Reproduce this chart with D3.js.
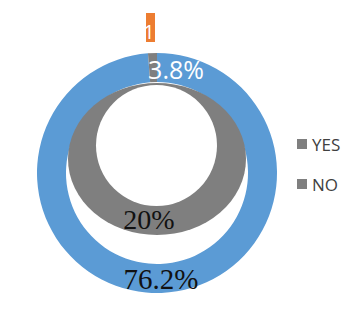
<!DOCTYPE html>
<html>
<head>
	<meta charset="utf-8">
	<title>Doughnut</title>
	<script src="https://d3js.org/d3.v7.min.js"></script>
	<style>
		body { margin: 0; background: #fff; }
		svg { display: block; }
	</style>
</head>
<body>
<script>
// outer ring slices (share of the ring)
var outerNames = ["YES", "NO"];
var outerValues = [98.8, 1.2];
var outerColors = ["#5b9bd5", "#7f7f7f"];
var outerLabels = ["76.2%", "3.8%"];

// inner ring
var innerValues = [20];
var innerLabels = ["20%"];

var legendNames = ["YES", "NO"];
var topLabel = "1";

var width = 354, height = 317;
var cx = 157, cy = 173;

var svg = d3.select("body").append("svg")
	.attr("width", width)
	.attr("height", height);

var pie = d3.pie().sort(null).value(function(d){ return d; });
var outerArc = d3.arc().innerRadius(91).outerRadius(120);

var outer = svg.append("g").attr("transform", "translate(" + cx + "," + cy + ")");
outer.selectAll("path")
	.data(pie(outerValues))
	.enter()
		.append("path")
		.attr("d", outerArc)
		.attr("fill", function(d, i){ return outerColors[i]; });

// inner crescent: gray disc squashed a little, white hole on top
var innerArc = d3.arc().innerRadius(0).outerRadius(89);
svg.append("g")
	.attr("transform", "translate(" + cx + ",159) scale(1,0.854)")
	.selectAll("path")
	.data(pie(innerValues))
	.enter()
		.append("path")
		.attr("d", innerArc)
		.attr("fill", "#7f7f7f");

svg.append("circle")
	.attr("cx", 156.5)
	.attr("cy", 145.5)
	.attr("r", 60.5)
	.attr("fill", "#fff");

// labels
var arcs = pie(outerValues);
var c0 = outerArc.centroid(arcs[0]);
var c1 = outerArc.centroid(arcs[1]);

svg.append("text")
	.attr("x", cx + c0[0])
	.attr("y", cy + c0[1] + 11)
	.attr("text-anchor", "middle")
	.style("font-family", "'Liberation Serif', serif")
	.style("font-size", "29px")
	.attr("fill", "#111")
	.text(outerLabels[0]);

svg.append("text")
	.attr("x", cx + c1[0] + 23)
	.attr("y", cy + c1[1] + 11)
	.attr("text-anchor", "middle")
	.style("font-family", "'Open Sans', sans-serif")
	.style("font-size", "25px")
	.attr("fill", "#fff")
	.text(outerLabels[1]);

svg.append("text")
	.attr("x", 149)
	.attr("y", 229)
	.attr("text-anchor", "middle")
	.style("font-family", "'Liberation Serif', serif")
	.style("font-size", "28px")
	.attr("fill", "#111")
	.text(innerLabels[0]);

// small orange tag above the ring
svg.append("rect")
	.attr("x", 146).attr("y", 13)
	.attr("width", 9).attr("height", 29)
	.attr("fill", "#ed7d31");
svg.append("text")
	.attr("x", 149).attr("y", 39)
	.attr("text-anchor", "middle")
	.style("font-family", "'Open Sans', sans-serif")
	.style("font-size", "20px")
	.attr("fill", "#fff")
	.text(topLabel);

// legend
var legend = svg.selectAll("g.legend")
	.data(legendNames)
	.enter()
		.append("g")
		.attr("class", "legend")
		.attr("transform", function(d, i){ return "translate(297," + (139 + i * 40) + ")"; });
legend.append("rect")
	.attr("width", 10).attr("height", 10)
	.attr("fill", "#7f7f7f");
legend.append("text")
	.attr("x", 15).attr("y", 12)
	.style("font-family", "'Open Sans', sans-serif")
	.style("font-size", "17px")
	.attr("fill", "#404040")
	.text(function(d){ return d; });
</script>
</body>
</html>
